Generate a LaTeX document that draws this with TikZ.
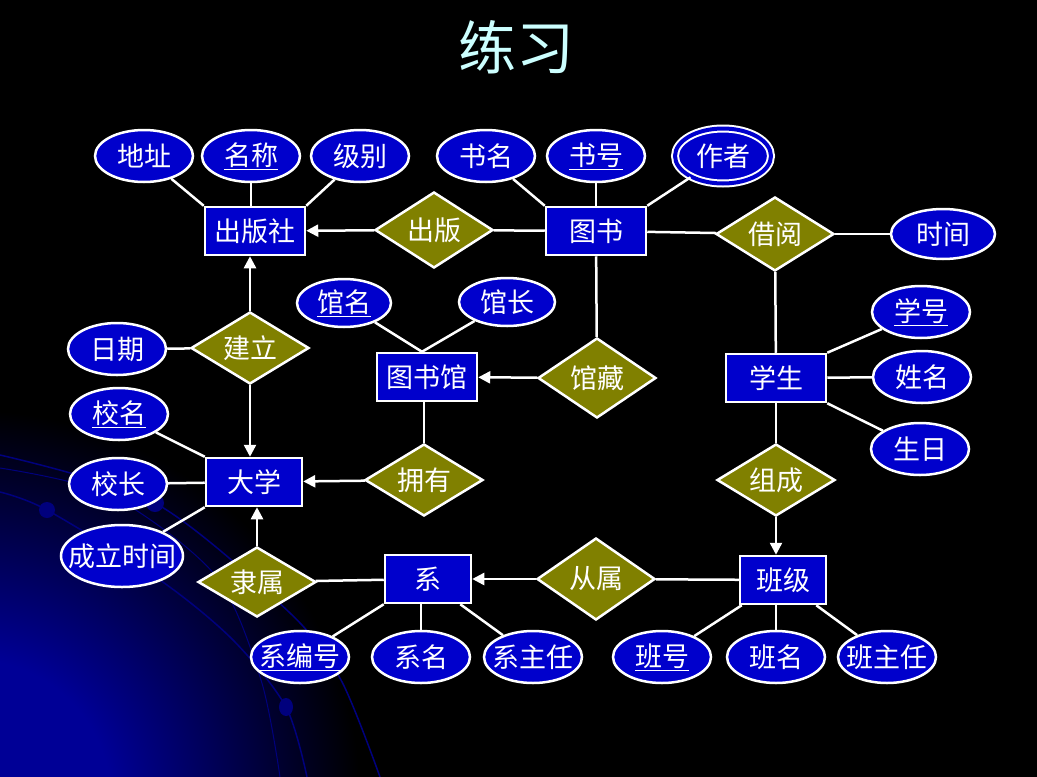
\documentclass[tikz,border=0pt]{standalone}
\usepackage{fontspec}
\usepackage{xcolor}
\usepackage{tikz}
\usetikzlibrary{arrows.meta,shapes.geometric,calc}
\newfontfamily\cjk{Noto Sans CJK SC}
\definecolor{ERBlue}{RGB}{0,0,204}
\definecolor{EROlive}{RGB}{128,128,0}
\definecolor{ERNavy}{RGB}{0,0,150}
\definecolor{ERArc}{RGB}{0,0,125}
\definecolor{ERTitle}{RGB}{204,255,255}
\pgfdeclareradialshading{cornerglow}{\pgfpoint{0bp}{0bp}}{color(0bp)=(ERNavy); color(9bp)=(ERNavy); color(25bp)=(black); color(50bp)=(black)}

\begin{document}
\begin{tikzpicture}[x=1pt,y=-1pt,>={Triangle[length=12pt,width=12pt]},
  font=\cjk\fontsize{27}{30}\selectfont,
  every node/.style={text=white},
  ent/.style={rectangle,fill=ERBlue,draw=white,line width=2.5pt,minimum width=100pt,minimum height=48pt,inner sep=0pt},
  rel/.style={diamond,aspect=1.6,fill=EROlive,draw=white,line width=2.5pt,minimum width=118pt,minimum height=76pt,inner sep=0pt},
  attr/.style={ellipse,fill=ERBlue,draw=white,line width=2.5pt,minimum width=98pt,minimum height=52pt,inner xsep=-8pt,inner ysep=0pt},
  link/.style={draw=white,line width=2.5pt}]
\useasboundingbox (0,0) rectangle (1037,777);
% background
\fill[black] (0,0) rectangle (1037,777);
\begin{scope}
\clip (0,0) rectangle (1037,777);
\shade[shading=cornerglow] (-30,800) circle (390);
\draw[ERArc,line width=1.5pt] plot[smooth] coordinates {(0,455) (155,503) (290,613) (341,680) (380,777)};
\draw[ERArc,line width=1.5pt] plot[smooth] coordinates {(0,492) (47,510) (160,580) (233,640) (286,707) (307,777)};
\draw[ERArc,line width=1pt] plot[smooth] coordinates {(0,468) (110,495) (215,575) (261,680) (280,777)};
\fill[ERArc] (47,510) circle (8) (155,503) circle (9);
\fill[ERArc] (286,707) ellipse (7 and 9);
\end{scope}
\node[text=ERTitle,font=\cjk\fontsize{58}{60}\selectfont] (title) at (516,47) {练习};

% entities
\node[ent] (cbs) at (255,231) {出版社};
\node[ent] (ts) at (596,231) {图书};
\node[ent] (tsg) at (427,377) {图书馆};
\node[ent] (xs) at (776,378) {学生};
\node[ent,minimum width=96pt] (dx) at (254,482) {大学};
\node[ent,minimum width=86pt] (xi) at (428,579) {系};
\node[ent,minimum width=86pt] (bj) at (783,580) {班级};

% relationships
\node[rel] (cb) at (434,230) {出版};
\node[rel,minimum height=74pt] (jy) at (775,234) {借阅};
\node[rel,minimum height=72pt] (jl) at (250,348) {建立};
\node[rel,minimum height=80pt] (gc) at (597,378) {馆藏};
\node[rel,minimum height=72pt] (yy) at (424,480) {拥有};
\node[rel,minimum height=72pt] (zc) at (776,480) {组成};
\node[rel,minimum height=70pt] (ls) at (257,582) {隶属};
\node[rel,minimum height=82pt] (cs) at (596,579) {从属};

% attributes
\node[attr] (dz) at (144,156) {地址};
\node[attr] (mc) at (251,156) {\underline{名称}};
\node[attr] (jb) at (360,156) {级别};
\node[attr] (sm) at (486,156) {书名};
\node[attr] (sh) at (596,156) {\underline{书号}};
\node[attr,line width=2pt,double=ERBlue,double distance=4pt,minimum width=96pt,minimum height=55pt] (zz) at (723,156) {作者};
\node[attr,minimum width=104pt,minimum height=50pt] (sj) at (943,234) {时间};
\node[attr,minimum width=94pt,minimum height=48pt] (gm) at (344,303) {\underline{馆名}};
\node[attr,minimum width=96pt,minimum height=48pt] (gz) at (507,302) {馆长};
\node[attr] (rq) at (117,349) {日期};
\node[attr] (xh) at (921,312) {\underline{学号}};
\node[attr] (xm) at (922,377) {姓名};
\node[attr] (sr) at (920,449) {生日};
\node[attr] (xiaom) at (119,414) {\underline{校名}};
\node[attr] (xz) at (118,484) {校长};
\node[attr,minimum width=122pt,minimum height=62pt,inner xsep=-14pt] (clsj) at (122,556) {成立时间};
\node[attr] (xbh) at (300,657) {\underline{系编号}};
\node[attr] (xim) at (421,657) {系名};
\node[attr] (xzr) at (533,657) {系主任};
\node[attr] (bh) at (662,657) {\underline{班号}};
\node[attr] (bm) at (776,657) {班名};
\node[attr] (bzr) at (887,657) {班主任};

% connectors
\draw[link] (dz) -- (cbs.north west);
\draw[link] (mc) -- (mc |- cbs.north);
\draw[link] (jb) -- (cbs.north east);
\draw[link] (sm) -- (ts.north west);
\draw[link] (sh) -- (ts);
\draw[link] (zz) -- (ts.north east);
\draw[link] (ts) -- (cb);
\draw[link,->] (cb) -- (cbs);
\draw[link] (ts) -- (jy);
\draw[link] (jy) -- (sj);
\draw[link] (jy) -- (xs);
\draw[link] (ts) -- (gc);
\draw[link,->] (gc) -- (tsg);
\coordinate (tsgtop) at ([xshift=-5pt]tsg.north);
\draw[link] (gm) -- (tsgtop);
\draw[link] (gz) -- (tsgtop);
\draw[link] (yy.north |- tsg.south) -- (yy);
\draw[link,->] (yy) -- (dx);
\draw[link,->] (jl) -- (jl |- cbs.south);
\draw[link,->] (jl) -- (jl |- dx.north);
\draw[link] (rq) -- (jl);
\draw[link] (xiaom) -- (dx.north west);
\draw[link] (xz) -- (dx);
\draw[link] (clsj) -- (dx.south west);
\draw[link,->] (ls) -- (ls |- dx.south);
\draw[link] (xi) -- (ls);
\draw[link,->] (cs) -- (xi);
\draw[link] (bj) -- (cs);
\draw[link] (xs) -- (zc);
\draw[link,->] (zc) -- (zc |- bj.north);
\draw[link] (xh) -- (xs.north east);
\draw[link] (xm) -- (xs);
\draw[link] (sr) -- (xs.south east);
\draw[link] (xbh) -- (xi.south west);
\draw[link] (xim) -- (xim |- xi.south);
\draw[link] (xzr) -- ([xshift=-12pt]xi.south east);
\draw[link] (bh) -- ([xshift=3pt]bj.south west);
\draw[link] (bm) -- (bm |- bj.south);
\draw[link] (bzr) -- ([xshift=-11pt]bj.south east);
\end{tikzpicture}
\end{document}
